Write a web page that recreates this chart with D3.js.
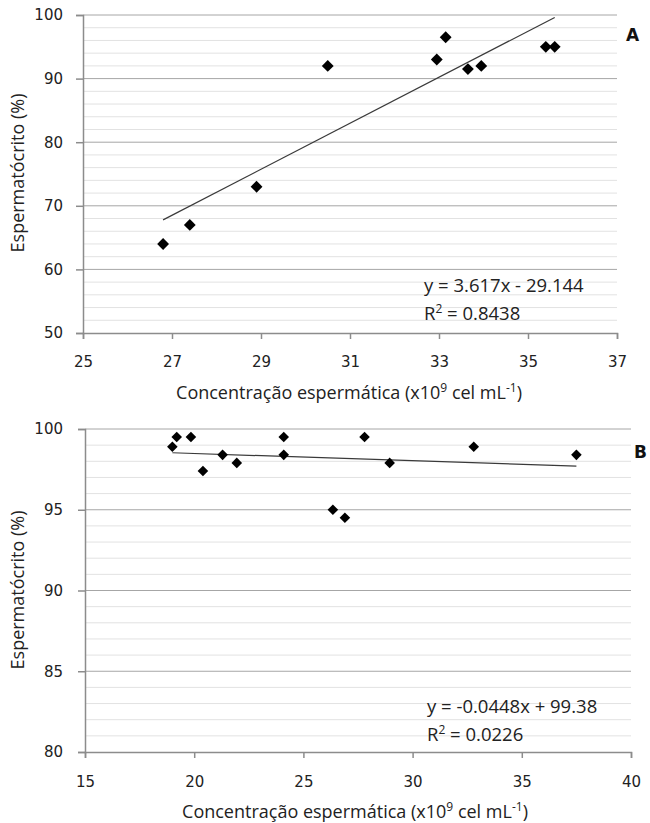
<!DOCTYPE html>
<html>
<head>
<meta charset="utf-8">
<script src="https://cdn.jsdelivr.net/npm/d3@7"></script>
<style>
  body { margin: 0; background: #fff; }
  svg { display: block; }
  .tick-label { font-family: "DejaVu Sans", sans-serif; font-size: 15px; fill: #222; }
  .axis-title { font-family: "Open Sans", sans-serif; font-size: 18px; fill: #222; }
  .eq { font-family: "Open Sans", sans-serif; font-size: 18.5px; fill: #222; }
  .panel-tag { font-family: "DejaVu Sans", sans-serif; font-size: 17px; font-weight: bold; fill: #111; }
</style>
</head>
<body>
<script>
// Panel A data
const concA = [26.8, 27.4, 28.9, 30.5, 32.95, 33.15, 33.65, 33.95, 35.4, 35.6];
const espA  = [64, 67, 73, 92, 93, 96.5, 91.5, 92, 95, 95];
const ticksXA = [25, 27, 29, 31, 33, 35, 37];
const ticksYA = [50, 60, 70, 80, 90, 100];

// Panel B data
const concB = [19.0, 19.2, 19.85, 20.4, 21.3, 21.95, 24.1, 24.1, 26.35, 26.9, 27.8, 28.95, 32.8, 37.5];
const espB  = [98.9, 99.5, 99.5, 97.4, 98.4, 97.9, 99.5, 98.4, 95.0, 94.5, 99.5, 97.9, 98.9, 98.4];
const ticksXB = [15, 20, 25, 30, 35, 40];
const ticksYB = [80, 85, 90, 95, 100];

// Trendline coefficients (as printed)
const fitA = { slope: 3.617, intercept: -29.144, text: ['y = 3.617x - 29.144', '0.8438'] };
const fitB = { slope: -0.0448, intercept: 99.38, text: ['y = -0.0448x + 99.38', '0.0226'] };

const svg = d3.select('body').append('svg')
  .attr('width', 650)
  .attr('height', 823);

function drawPanel(p) {
  const x = d3.scaleLinear().domain(p.xDomain).range([p.left, p.right]);
  const y = d3.scaleLinear().domain(p.yDomain).range([p.bottom, p.top]);
  const g = svg.append('g');

  // minor gridlines
  const minor = d3.range(p.yDomain[0], p.yDomain[1] + 0.001, p.minorStep)
    .filter(v => !p.ticksY.includes(v));
  g.selectAll('.minor').data(minor).enter().append('line')
    .attr('x1', p.left).attr('x2', p.right)
    .attr('y1', d => y(d)).attr('y2', d => y(d))
    .attr('stroke', '#e2e2e2').attr('stroke-width', 1);

  // major gridlines
  g.selectAll('.major').data(p.ticksY.filter(v => v !== p.yDomain[0])).enter().append('line')
    .attr('x1', p.left).attr('x2', p.right)
    .attr('y1', d => y(d)).attr('y2', d => y(d))
    .attr('stroke', '#a6a6a6').attr('stroke-width', 1);

  // y axis
  const yAxis = d3.axisLeft(y).tickValues(p.ticksY).tickSize(7).tickPadding(p.yPad);
  const ya = g.append('g').attr('transform', `translate(${p.left},0)`).call(yAxis);
  // x axis
  const xAxis = d3.axisBottom(x).tickValues(p.ticksX).tickSize(6).tickPadding(p.xPad);
  const xa = g.append('g').attr('transform', `translate(0,${p.bottom})`).call(xAxis);

  [ya, xa].forEach(a => {
    a.select('.domain').attr('stroke', '#8c8c8c').attr('stroke-width', 1.5);
    a.selectAll('.tick line').attr('stroke', '#8c8c8c').attr('stroke-width', 1.5);
    a.selectAll('.tick text').attr('class', 'tick-label').attr('font-size', null).attr('font-family', null);
  });

  // trendline between data extremes
  const ext = d3.extent(p.xs);
  g.append('line')
    .attr('x1', x(ext[0])).attr('y1', y(p.fit.slope * ext[0] + p.fit.intercept))
    .attr('x2', x(ext[1])).attr('y2', y(p.fit.slope * ext[1] + p.fit.intercept))
    .attr('stroke', '#3a3a3a').attr('stroke-width', 1.2);

  // diamonds
  const diamond = d3.symbol().type(d3.symbolSquare).size(p.markerSize);
  g.selectAll('.pt').data(p.xs.map((v, i) => [v, p.ys[i]])).enter().append('path')
    .attr('d', diamond)
    .attr('transform', d => `translate(${x(d[0])},${y(d[1])}) rotate(45)`)
    .attr('fill', '#000');

  // equation labels
  g.append('text').attr('class', 'eq')
    .attr('x', p.eqX).attr('y', p.eqY).text(p.fit.text[0]);
  const r2 = g.append('text').attr('class', 'eq')
    .attr('x', p.eqX).attr('y', p.eqY + 28);
  r2.append('tspan').text('R');
  r2.append('tspan').attr('dy', -7).attr('font-size', 12).text('2');
  r2.append('tspan').attr('dy', 7).text(' = ' + p.fit.text[1]);

  // axis titles
  const xt = g.append('text').attr('class', 'axis-title')
    .attr('text-anchor', 'middle')
    .attr('x', p.xTitleX).attr('y', p.xTitleY);
  xt.append('tspan').text('Concentração espermática (x10');
  xt.append('tspan').attr('dy', -7).attr('font-size', 12).text('9');
  xt.append('tspan').attr('dy', 7).text(' cel mL');
  xt.append('tspan').attr('dy', -7).attr('font-size', 12).text('-1');
  xt.append('tspan').attr('dy', 7).text(')');

  g.append('text').attr('class', 'axis-title')
    .attr('text-anchor', 'middle')
    .attr('transform', `translate(${p.yTitleX},${p.yTitleY}) rotate(-90)`)
    .text('Espermatócrito (%)');

  g.append('text').attr('class', 'panel-tag')
    .attr('x', p.tagX).attr('y', p.tagY).text(p.tag);
}

drawPanel({
  xs: concA, ys: espA, ticksX: ticksXA, ticksY: ticksYA, fit: fitA,
  xDomain: [25, 37], yDomain: [50, 100], minorStep: 2,
  left: 83, right: 617, top: 15, bottom: 333,
  markerSize: 70, xPad: 17, yPad: 13,
  eqX: 424, eqY: 292,
  xTitleX: 349, xTitleY: 399, yTitleX: 24, yTitleY: 173,
  tag: 'A', tagX: 626, tagY: 41
});

drawPanel({
  xs: concB, ys: espB, ticksX: ticksXB, ticksY: ticksYB, fit: fitB,
  xDomain: [15, 40], yDomain: [80, 100], minorStep: 1,
  left: 85, right: 631, top: 429, bottom: 752,
  markerSize: 56, xPad: 18, yPad: 15,
  eqX: 427, eqY: 713,
  xTitleX: 355, xTitleY: 818, yTitleX: 24, yTitleY: 590,
  tag: 'B', tagX: 634, tagY: 458
});
</script>
</body>
</html>
